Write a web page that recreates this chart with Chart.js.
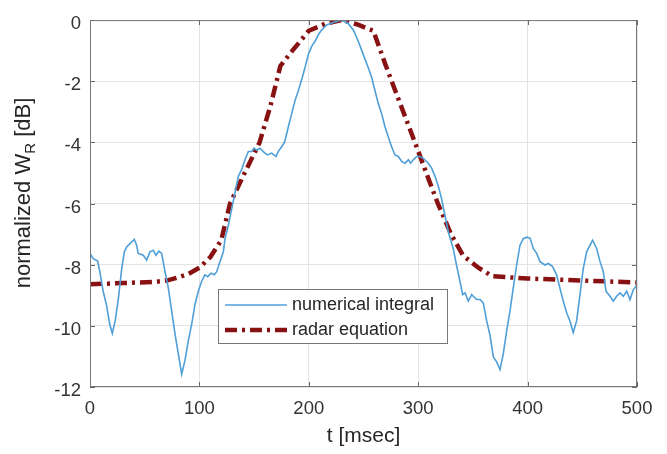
<!DOCTYPE html>
<html>
<head>
<meta charset="utf-8">
<script src="https://cdn.jsdelivr.net/npm/chart.js@4.4.1/dist/chart.umd.min.js"></script>
<style>
  html, body { margin: 0; padding: 0; background: #fff; }
  #cont { width: 667px; height: 454px; }
</style>
</head>
<body>
<div id="cont"><canvas id="grafico"></canvas></div>
<script>
// numerical integral (t en msec, valor en dB)
var tNum = [0, 3, 7, 9, 12, 15, 18, 20.4, 23, 26, 29, 31.4, 33.5, 36.6, 40.5, 42.7, 44, 48.7, 51.8, 54.8,
  57.9, 60.3, 63, 65.5, 68.6, 71.6, 74.6, 77.7, 80.7, 83.8, 86.8, 89.9, 92.9, 96, 99, 102, 105, 107.6, 110.6, 113.6,
  115.8, 118.8, 121.9, 123.4, 126.4, 129.5, 132.5, 135.6, 138.6, 141.7, 144.7, 147.8, 149.9, 152.3, 155.4, 158.4, 162, 166, 170, 172,
  175.2, 178, 181.3, 184.4, 187.4, 190.4, 193.5, 196.5, 199.5, 202.6, 205.6, 208.7, 211.8, 216.3, 222.4, 230, 231.6, 236, 240.7, 245.3,
  249.8, 254.4, 257.5, 260.5, 263.6, 266.6, 269.6, 272.7, 275.7, 278.8, 281.8, 284.9, 287.9, 291, 293, 295.5, 298.6, 301.6, 304.7, 309.2,
  312.3, 315.4, 318.4, 321.5, 324.5, 327.6, 332, 335, 338.2, 340.6, 342.8, 345.8, 348.9, 353.4, 356.5, 359.5, 362.6, 365.6, 368.7, 371.7,
  374.8, 377.8, 380.9, 383.9, 386.9, 390, 393, 396, 399.2, 402.2, 405.2, 408.3, 411.3, 415.9, 418.9, 422.9, 426.5, 429.5, 432.6, 435.7,
  438.7, 441.7, 444.8, 447.9, 450.9, 454, 457, 459.4, 463.1, 466.2, 469.2, 471.7, 475.3, 478.4, 481.4, 484.5, 487.5, 490.6, 493.6, 496.6, 500];
var vNum = [-7.63, -7.8, -7.88, -8.23, -8.87, -9.3, -9.94, -10.25, -9.84, -9.09, -8.12, -7.58, -7.42, -7.31, -7.17, -7.37, -7.63, -7.69, -7.85, -7.58,
  -7.53, -7.69, -7.56, -7.63, -8.23, -8.76, -9.5, -10.26, -10.91, -11.58, -11.13, -10.48, -9.95, -9.3, -8.87, -8.55, -8.33, -8.39, -8.28, -8.33,
  -8.23, -7.9, -7.58, -7.15, -6.72, -6.18, -5.65, -5.11, -4.89, -4.57, -4.3, -4.3, -4.19, -4.25, -4.19, -4.3, -4.41, -4.35, -4.46, -4.3,
  -4.14, -3.98, -3.49, -3.06, -2.63, -2.31, -1.94, -1.56, -1.13, -0.86, -0.7, -0.48, -0.32, -0.16, -0.08, 0, -0.03, -0.11, -0.32, -0.7,
  -1.13, -1.56, -1.88, -2.31, -2.74, -3.06, -3.49, -3.82, -4.14, -4.41, -4.46, -4.62, -4.68, -4.57, -4.68, -4.57, -4.46, -4.46, -4.52, -4.68,
  -4.84, -5.11, -5.43, -5.86, -6.4, -6.94, -7.47, -8.01, -8.55, -8.98, -8.92, -9.19, -8.98, -9.14, -9.14, -9.25, -9.84, -10.3, -11.02, -11.18,
  -11.43, -10.91, -10.16, -9.52, -8.76, -8.01, -7.37, -7.15, -7.1, -7.13, -7.47, -7.63, -7.9, -8.01, -7.96, -8.06, -8.33, -8.76, -9.19, -9.57,
  -9.84, -10.22, -9.84, -8.98, -8.12, -7.58, -7.37, -7.2, -7.47, -7.9, -8.23, -8.87, -9.03, -9.19, -9.03, -8.92, -9.03, -8.87, -9.14, -8.82, -8.66];

// radar equation
var tRadar = [0, 30, 60, 70, 80, 90, 100, 110, 120, 128, 140, 155, 165, 174, 185, 200, 215, 230, 245, 259,
  270, 280, 297, 310, 318, 330, 341, 355, 368, 400, 450, 500];
var vRadar = [-8.64, -8.6, -8.56, -8.52, -8.42, -8.3, -8.1, -7.75, -7.2, -6.0, -5.1, -4.0, -2.8, -1.5, -1.0, -0.35, -0.12, 0, -0.15, -0.35,
  -1.45, -2.4, -4.0, -5.25, -6.0, -7.0, -7.7, -8.1, -8.38, -8.45, -8.52, -8.58];

var ticksX = [0, 100, 200, 300, 400, 500];
var ticksY = [-12, -10, -8, -6, -4, -2, 0];

var nombres = ['numerical integral', 'radar equation'];

var azul = '#4f9fd8';
var rojo = '#881111';
var guion = [12, 5, 3, 5];
var fuente = '"Liberation Sans", Arial, sans-serif';

function armarPuntos(xs, ys) {
  var pts = [];
  xs.forEach(function (x, i) { pts.push({ x: x, y: ys[i] }); });
  return pts;
}

// titulo del eje y con subindice, leyenda y marcas hacia adentro
var extras = {
  id: 'extras',
  afterDraw: function (chart) {
    var ctx = chart.ctx;
    var a = chart.chartArea;
    var sx = chart.scales.x, sy = chart.scales.y;
    ctx.save();

    // marcas hacia adentro
    ctx.strokeStyle = '#666';
    ctx.lineWidth = 1;
    ctx.beginPath();
    ticksX.forEach(function (t) {
      var px = Math.round(sx.getPixelForValue(t)) + 0.5;
      ctx.moveTo(px, a.bottom); ctx.lineTo(px, a.bottom - 5);
      ctx.moveTo(px, a.top); ctx.lineTo(px, a.top + 5);
    });
    ticksY.forEach(function (t) {
      var py = Math.round(sy.getPixelForValue(t)) + 0.5;
      ctx.moveTo(a.left, py); ctx.lineTo(a.left + 5, py);
      ctx.moveTo(a.right, py); ctx.lineTo(a.right - 5, py);
    });
    ctx.stroke();

    // caja
    ctx.strokeStyle = '#777';
    ctx.strokeRect(a.left + 0.5, a.top + 0.5, a.right - a.left - 1, a.bottom - a.top - 1);

    // titulo eje y
    ctx.fillStyle = '#262626';
    ctx.translate(24, 193);
    ctx.rotate(-Math.PI / 2);
    ctx.textBaseline = 'middle';
    ctx.textAlign = 'left';
    var f1 = '22px ' + fuente, f2 = '15px ' + fuente;
    ctx.font = f1;
    var p1 = 'normalized W', p3 = ' [dB]';
    var w1 = ctx.measureText(p1).width, w3 = ctx.measureText(p3).width;
    ctx.font = f2;
    var w2 = ctx.measureText('R').width;
    var x0 = -(w1 + w2 + w3) / 2;
    ctx.font = f1;
    ctx.fillText(p1, x0, 0);
    ctx.font = f2;
    ctx.fillText('R', x0 + w1, 7);
    ctx.font = f1;
    ctx.fillText(p3, x0 + w1 + w2, 0);
    ctx.setTransform(1, 0, 0, 1, 0, 0);

    // leyenda
    var lx = 218, ly = 289, lw = 229, lh = 54;
    ctx.fillStyle = '#fff';
    ctx.fillRect(lx, ly, lw, lh);
    ctx.strokeStyle = '#777';
    ctx.lineWidth = 1;
    ctx.strokeRect(lx + 0.5, ly + 0.5, lw, lh);

    ctx.lineWidth = 1.6;
    ctx.strokeStyle = azul;
    ctx.beginPath(); ctx.moveTo(225, 305); ctx.lineTo(287, 305); ctx.stroke();

    ctx.lineWidth = 4.5;
    ctx.strokeStyle = rojo;
    ctx.setLineDash(guion);
    ctx.beginPath(); ctx.moveTo(225, 330); ctx.lineTo(287, 330); ctx.stroke();
    ctx.setLineDash([]);

    ctx.fillStyle = '#262626';
    ctx.font = '18px ' + fuente;
    ctx.textAlign = 'left';
    ctx.textBaseline = 'middle';
    ctx.fillText(nombres[0], 292, 305);
    ctx.fillText(nombres[1], 292, 330);
    ctx.restore();
  }
};

const ctx = document.getElementById('grafico');
let grafico = new Chart(ctx, {
  type: 'line',
  data: {
    datasets: [{
      label: nombres[0],
      data: armarPuntos(tNum, vNum),
      borderColor: azul,
      borderWidth: 1.6,
      pointRadius: 0,
      tension: 0
    }, {
      label: nombres[1],
      data: armarPuntos(tRadar, vRadar),
      borderColor: rojo,
      borderWidth: 4.5,
      borderDash: guion,
      pointRadius: 0,
      tension: 0
    }]
  },
  plugins: [extras],
  options: {
    responsive: true,
    maintainAspectRatio: false,
    animation: false,
    layout: { padding: { top: 15, right: 30, left: 0, bottom: 0 } },
    plugins: { legend: { display: false }, tooltip: { enabled: false } },
    scales: {
      x: {
        type: 'linear',
        min: 0, max: 500,
        afterBuildTicks: function (s) { s.ticks = ticksX.map(function (v) { return { value: v }; }); },
        afterFit: function (s) { s.height = 67; },
        grid: { color: '#e3e3e3', drawTicks: false },
        border: { display: false },
        ticks: { color: '#333', font: { size: 18.5, family: fuente }, padding: 11, maxRotation: 0 },
        title: { display: true, text: 't [msec]', color: '#262626', font: { size: 21, family: fuente }, padding: { top: 0, bottom: 5 } }
      },
      y: {
        min: -12, max: 0,
        afterBuildTicks: function (s) { s.ticks = ticksY.map(function (v) { return { value: v }; }); },
        afterFit: function (s) { s.width = 90; },
        grid: { color: '#e3e3e3', drawTicks: false },
        border: { display: false },
        ticks: { color: '#333', font: { size: 18.5, family: fuente }, padding: 9, labelOffset: 4 }
      }
    }
  }
});
</script>
</body>
</html>
